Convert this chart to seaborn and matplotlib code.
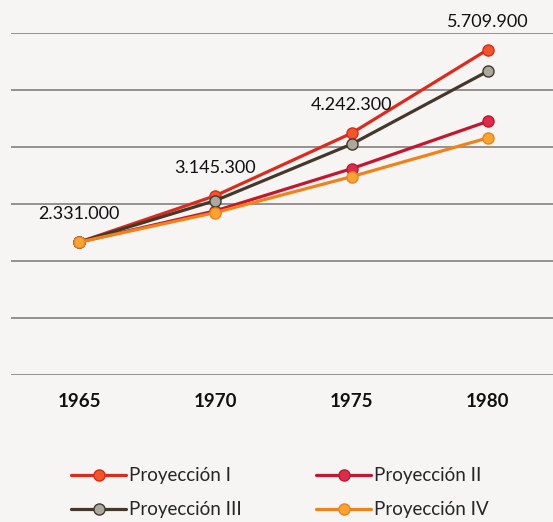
import numpy as np
import pandas as pd
import matplotlib
matplotlib.use("Agg")
import matplotlib.pyplot as plt
import seaborn as sns

# Datos (poblacion proyectada)
years = [1965, 1970, 1975, 1980]
proy_1 = [2331000, 3145300, 4242300, 5709900]
proy_2 = [2331000, 2880000, 3620000, 4450000]
proy_3 = [2331000, 3060000, 4050000, 5330000]
proy_4 = [2331000, 2850000, 3480000, 4160000]
series_names = ["Proyección I", "Proyección II", "Proyección III", "Proyección IV"]
labels_1 = ["2.331.000", "3.145.300", "4.242.300", "5.709.900"]

sns.set_style("white")
plt.rcParams['font.family'] = ['Lato', 'DejaVu Sans']

bg = '#f6f5f4'
fig = plt.figure(figsize=(5.53, 5.22), dpi=100, facecolor=bg)
ax = fig.add_axes([11 / 553, 147 / 522, 545 / 553, 342 / 522])
ax.set_facecolor(bg)

# estilos por serie: linea, relleno del marcador
styles = {
    "Proyección I": ('#dc2a1c', '#f0562a'),
    "Proyección II": ('#c4162f', '#dc2c4c'),
    "Proyección III": ('#45382a', '#aaa9a0'),
    "Proyección IV": ('#f0821a', '#f7a434'),
}

df = pd.DataFrame({
    'year': years * 4,
    'value': proy_1 + proy_2 + proy_3 + proy_4,
    'serie': np.repeat(series_names, len(years)),
})

handles = {}
for name in series_names:
    sub = df[df['serie'] == name]
    line_c, face_c = styles[name]
    sns.lineplot(data=sub, x='year', y='value', ax=ax, color=line_c,
                 linewidth=2.3, marker='o', markersize=8,
                 markerfacecolor=face_c, markeredgecolor=line_c,
                 markeredgewidth=1.0, label=name, legend=False)
    handles[name] = ax.lines[-1]

# etiquetas de datos de la Proyeccion I
for x, y, t in zip(years, proy_1, labels_1):
    ax.annotate(t, (x, y), xytext=(0, 28), textcoords='offset pixels',
                ha='center', va='center', fontsize=13, color='#111111')

ax.set_xlim(1962.5, 1982.5)
ax.set_ylim(0, 6000000)
ax.set_yticks(np.arange(0, 6000001, 1000000))
ax.set_yticklabels([])
ax.yaxis.grid(True, color='#858080', linewidth=1.2)
ax.set_axisbelow(True)
ax.set_xticks(years)
ax.set_xticklabels([str(y) for y in years], fontsize=13.5, fontweight='bold',
                   color='#111111')
ax.tick_params(axis='x', length=0, pad=13)
ax.tick_params(axis='y', length=0)
ax.set_xlabel('')
ax.set_ylabel('')
for s in ax.spines.values():
    s.set_visible(False)

order = ["Proyección I", "Proyección III", "Proyección II", "Proyección IV"]
fig.legend([handles[n] for n in order], order, ncol=2, frameon=False,
           loc='upper left', bbox_to_anchor=(62 / 553, 1 - 458 / 522),
           fontsize=13.5, handlelength=2.9, handletextpad=0.15,
           columnspacing=4.0, labelspacing=0.9, borderpad=0)

fig.savefig('out.png', dpi=100, facecolor=bg)
